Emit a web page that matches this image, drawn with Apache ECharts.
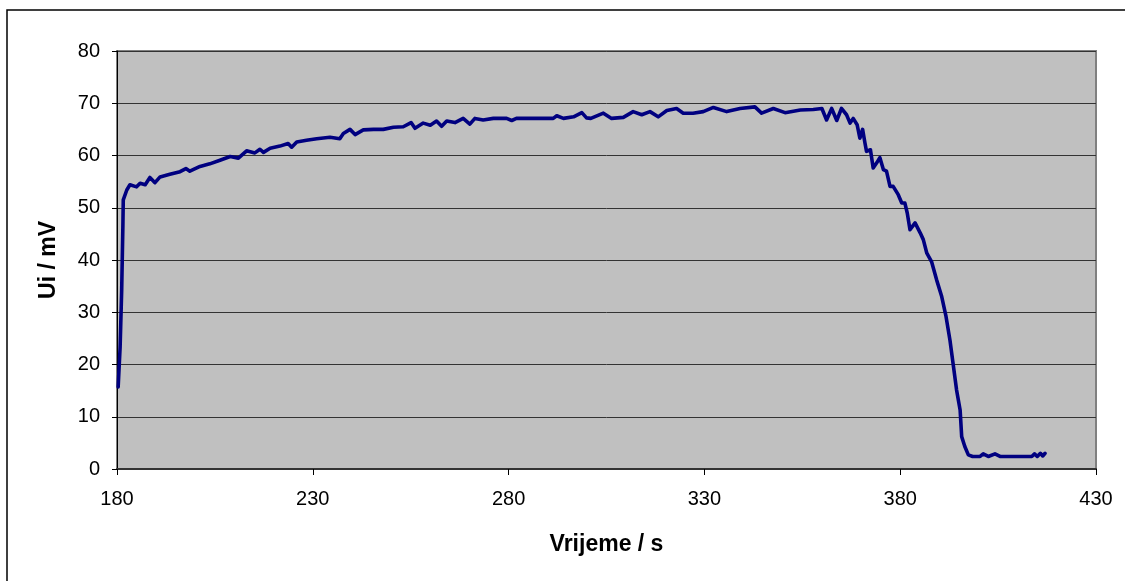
<!DOCTYPE html>
<html>
<head>
<meta charset="utf-8">
<script src="https://cdn.jsdelivr.net/npm/echarts@6/dist/echarts.min.js"></script>
<style>
html,body{margin:0;padding:0;background:#fff;}
#chart{width:1125px;height:581px;}
</style>
</head>
<body>
<div id="chart"></div>
<script>
// time in seconds
const timeS = [180.3,180.8,181.2,181.5,181.6,182.5,183.3,183.75,185,185.9,187.2,188.4,189.7,191,193.5,196.1,197.6,198.6,201.2,203.7,206.3,208.9,211,213.1,215.2,216.5,217.4,219.1,221.6,223.7,224.6,225.9,228.4,231,234.4,236.9,237.8,239.5,240.8,242.9,245.5,248,250.6,253.1,255.1,256.1,258.2,260,261.6,262.9,264.2,266.3,268.4,270.1,271.4,273.5,276.1,279.5,280.8,282,288,291.4,292.3,294,296.6,298.7,299.9,301,304.2,306.3,309.3,311.8,314,316.1,318.2,320.4,322.9,324.6,327.1,329.7,332.3,335.7,339.1,342.9,344.6,347.6,350.6,354.5,357.8,360,361.2,362.5,363.8,365,366.3,367.2,368,369,369.7,370.4,371,371.4,372.4,373.1,374,374.8,375.7,376.5,377.4,378.2,379.5,380.4,381.2,381.8,382.5,383.8,385.1,385.9,386.8,388,389.3,390.6,391.7,392.7,393.5,394.4,395.3,395.7,396.5,397.4,398.5,400.4,401.2,402.5,404.2,405.5,410.6,413.6,414.3,415,415.8,416.4,417];
// induced voltage Ui in mV
const uiMV = [15.7,23.4,34.3,46.4,51.5,53.4,54.4,54.7,54,54.7,54.4,55.8,54.8,55.9,56.4,56.9,57.5,57,57.9,58.4,59.1,59.8,59.5,60.9,60.5,61.2,60.6,61.4,61.8,62.3,61.6,62.6,62.9,63.2,63.5,63.2,64.2,65,64,64.9,65,65,65.4,65.5,66.3,65.2,66.2,65.8,66.6,65.6,66.6,66.3,67.1,66,67.1,66.8,67.1,67.1,66.7,67.1,67.1,67.1,67.6,67.1,67.4,68.2,67.2,67.1,68.1,67.1,67.3,68.4,67.8,68.4,67.4,68.6,69,68.1,68.1,68.4,69.2,68.4,69,69.3,68.1,69,68.2,68.7,68.8,69,66.8,69,66.7,69,67.8,66.2,67.1,65.9,63.3,65,62.4,60.8,61.1,57.6,58.6,59.6,57.3,57,54.1,54.1,52.5,50.9,50.9,49,45.8,47.1,45.2,43.9,41.3,39.7,36.2,33,29.2,24.7,20.2,15.1,11.3,6.2,4.3,2.7,2.4,2.4,2.9,2.4,2.9,2.4,2.4,2.4,2.9,2.4,3.0,2.5,3.0];

const xTitle = 'Vrijeme / s';
const yTitle = 'Ui / mV';

const chart = echarts.init(document.getElementById('chart'), null, {renderer: 'canvas'});
const font = 'Liberation Sans, Arial, sans-serif';
chart.setOption({
  animation: false,
  backgroundColor: '#fff',
  graphic: [{
    type: 'rect',
    shape: {x: 7, y: 10, width: 1200, height: 700},
    style: {fill: 'none', stroke: '#000', lineWidth: 1.5},
    z: 100
  }],
  grid: {
    left: 117, right: 29, top: 51, bottom: 112,
    show: true, backgroundColor: '#C0C0C0', borderColor: '#808080', borderWidth: 2
  },
  xAxis: {
    type: 'value', min: 180, max: 430, interval: 50,
    name: xTitle, nameLocation: 'middle', nameGap: 64,
    nameTextStyle: {fontFamily: font, fontSize: 23, fontWeight: 'bold', color: '#000'},
    axisLine: {show: true, onZero: false, lineStyle: {color: '#333', width: 2}},
    axisTick: {show: true, inside: false, length: 6, lineStyle: {color: '#000'}},
    axisLabel: {fontFamily: font, fontSize: 20, color: '#000', margin: 20},
    splitLine: {show: false}
  },
  yAxis: {
    type: 'value', min: 0, max: 80, interval: 10,
    name: yTitle, nameLocation: 'middle', nameGap: 57, nameRotate: 90,
    nameTextStyle: {fontFamily: font, fontSize: 23, fontWeight: 'bold', color: '#000'},
    axisLine: {show: true, lineStyle: {color: '#000', width: 1}},
    axisTick: {show: true, inside: false, length: 5, lineStyle: {color: '#000'}},
    axisLabel: {fontFamily: font, fontSize: 20, color: '#000', margin: 17},
    splitLine: {show: true, lineStyle: {color: '#333', width: 1}}
  },
  series: [{
    type: 'line',
    data: timeS.map((t, i) => [t, uiMV[i]]),
    showSymbol: false,
    symbol: 'none',
    lineStyle: {color: '#000080', width: 3.6, join: 'round', cap: 'round'},
    itemStyle: {color: '#000080'}
  }]
});
</script>
</body>
</html>
